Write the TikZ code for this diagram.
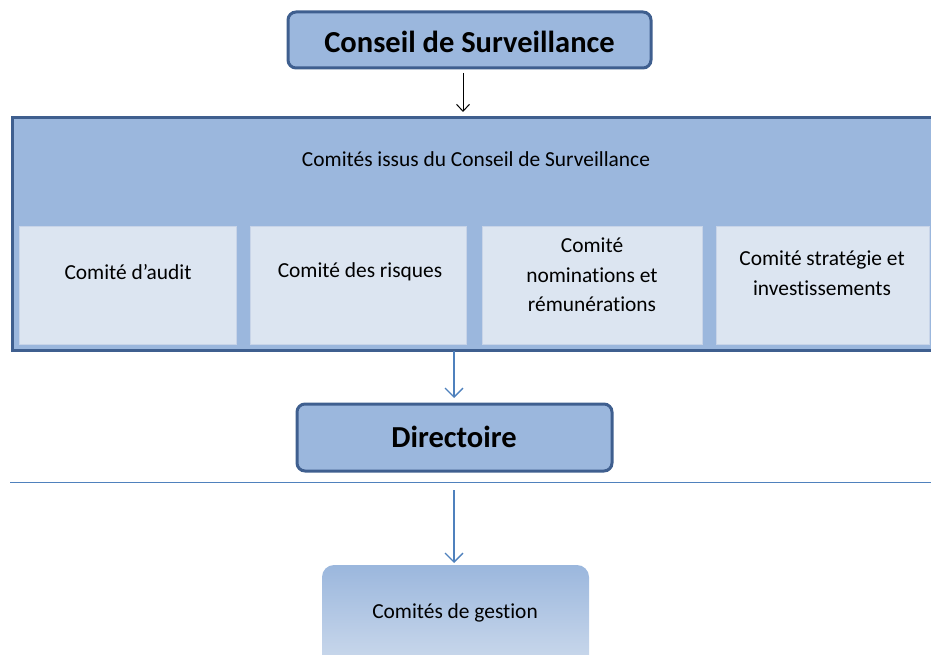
\documentclass[tikz,border=0pt]{standalone}
\usepackage{fontspec}
\setmainfont{Carlito}[Ligatures=NoCommon]
\usetikzlibrary{arrows.meta}
\definecolor{boxfill}{RGB}{155,183,221}
\definecolor{boxedge}{RGB}{63,95,143}
\definecolor{subfill}{RGB}{220,229,241}
\definecolor{subedge}{RGB}{200,212,232}
\definecolor{linkblue}{RGB}{79,129,189}
\tikzset{
  mainbox/.style={draw=boxedge, line width=3pt, fill=boxfill, rounded corners=8pt},
  subbox/.style={draw=subedge, line width=1pt, fill=subfill},
  bigtitle/.style={font=\fontsize{30.5}{34}\selectfont\bfseries},
  smalltext/.style={font=\fontsize{21.4}{29.5}\selectfont, align=center},
  bluearrow/.style={draw=linkblue, line width=1.3pt, -{Straight Barb[length=9pt,width=18pt,line width=1.3pt]}},
  blackarrow/.style={draw=black, line width=1pt, -{Straight Barb[length=7pt,width=13pt,line width=1pt]}}
}
\begin{document}
\begin{tikzpicture}[x=1pt,y=-1pt]
\useasboundingbox (0,0) rectangle (931,655);
\clip (0,0) rectangle (931,655);
% Conseil de Surveillance
\draw[mainbox] (288,12) rectangle (651,68);
\node[bigtitle] (conseil) at (469.5,42) {Conseil de Surveillance};
\coordinate (cs) at (463,73);
% big committees frame
\draw[draw=boxedge, line width=3pt, fill=boxfill] (12,118) rectangle (940,350);
\node[smalltext] (issus) at (476,159) {Comités issus du Conseil de Surveillance};
\coordinate (bigtop) at (463,112);
\coordinate (bigbot) at (454,351);
\draw[blackarrow] (cs) -- (bigtop);
% sub-boxes
\draw[subbox] (19,226) rectangle (236,344);
\node[smalltext] (audit) at (128,272) {Comité d’audit};
\draw[subbox] (250,226) rectangle (466,344);
\node[smalltext] (risques) at (360,272) {Comité des risques};
\draw[subbox] (482,226) rectangle (702,344);
\node[smalltext] (nomin) at (592,275) {Comité\\nominations et\\rémunérations};
\draw[subbox] (716,226) rectangle (929,344);
\node[smalltext] (strat) at (822,273) {Comité stratégie et\\investissements};
% Directoire
\draw[mainbox] (297,404) rectangle (612,471);
\node[bigtitle] (dir) at (454,437) {Directoire};
\coordinate (dirtop) at (454,398);
\draw[bluearrow] (bigbot) -- (dirtop);
% separator line
\coordinate (sepL) at (10,482);
\coordinate (sepR) at (931,482);
\draw[draw=linkblue, line width=1pt] (sepL) -- (sepR);
% Comités de gestion
\shade[top color=boxfill, bottom color=subfill, rounded corners=12pt] (322,700) -- (322,565) -- (589,565) -- (589,700) -- cycle;
\node[smalltext] (gestion) at (455,613) {Comités de gestion};
\coordinate (gs) at (454,490);
\coordinate (gtop) at (454,563);
\draw[bluearrow] (gs) -- (gtop);
\end{tikzpicture}
\end{document}
